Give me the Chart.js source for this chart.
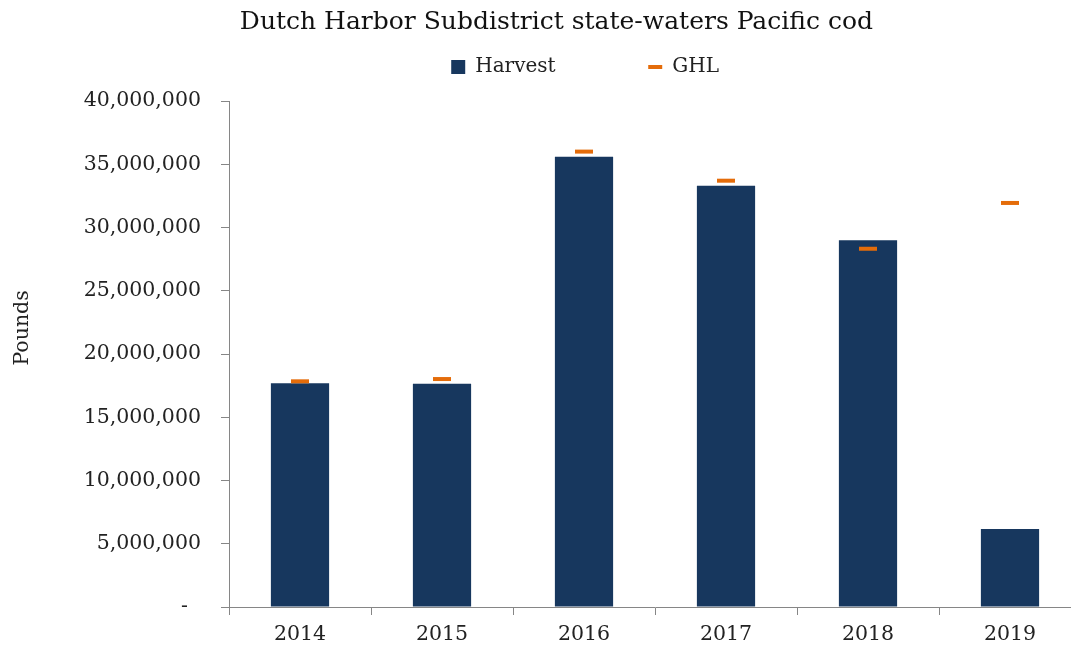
<!DOCTYPE html>
<html>
<head>
<meta charset="utf-8">
<script src="https://cdn.jsdelivr.net/npm/chart.js@4"></script>
<style>
  html, body { margin: 0; padding: 0; background: #ffffff; overflow: hidden; }
  /* the original crop cuts the plot a little before its right end */
  #wrap { width: 1081px; height: 652px; }
</style>
</head>
<body>
<div id="wrap"><canvas id="grafico_cod"></canvas></div>
<script>
const anos = ['2014', '2015', '2016', '2017', '2018', '2019'];
const harvest = [17680000, 17650000, 35600000, 33300000, 29000000, 6170000];
const ghl = [17840000, 18020000, 36000000, 33700000, 28320000, 31940000];
const yTicks = [0, 5000000, 10000000, 15000000, 20000000, 25000000, 30000000, 35000000, 40000000];

const azul = '#17375e';
const laranja = '#e46c0a';
const cinza = '#868686';
const fonte = 'DejaVu Serif';

// legend needs some room below its items before the plot starts
const folgaLegenda = {
  id: 'folgaLegenda',
  beforeLayout(chart) {
    const lg = chart.legend;
    if (lg && !lg._folga) {
      const fitOrig = lg.fit;
      lg.fit = function () {
        fitOrig.call(this);
        this.height += 14;
      };
      lg._folga = true;
    }
  }
};

function graficoCod() {
  const canvas = document.getElementById('grafico_cod');

  new Chart(canvas, {
    type: 'bar',
    data: {
      labels: anos,
      datasets: [{
        label: 'Harvest',
        data: harvest,
        backgroundColor: azul,
        borderWidth: 0,
        categoryPercentage: 1,
        barPercentage: 0.41,
        order: 2
      }, {
        type: 'line',
        label: 'GHL',
        data: ghl,
        showLine: false,
        pointStyle: 'line',
        pointRadius: 9,
        pointHoverRadius: 9,
        borderColor: laranja,
        backgroundColor: laranja,
        borderWidth: 4,
        pointBorderWidth: 4,
        order: 1
      }]
    },
    options: {
      responsive: true,
      maintainAspectRatio: false,
      animation: false,
      layout: { padding: 0, autoPadding: false },
      scales: {
        x: {
          grid: { drawOnChartArea: false, tickLength: 8, color: cinza, offset: true },
          border: { color: cinza, width: 1 },
          ticks: { color: '#222', padding: 7, font: { family: fonte, size: 20.5 } },
          afterFit(scale) {
            scale.height = 45;
            scale.paddingLeft = 0;
            scale.paddingRight = 0;
          }
        },
        y: {
          min: 0,
          max: 40000000,
          afterBuildTicks(scale) { scale.ticks = yTicks.map(v => ({ value: v })); },
          grid: { drawOnChartArea: false, tickLength: 8, color: cinza },
          border: { color: cinza, width: 1 },
          ticks: {
            color: '#222',
            padding: 20,
            font: { family: fonte, size: 20.5 },
            callback: v => v === 0 ? '-  ' : v.toLocaleString('en-US')
          },
          title: {
            display: true,
            text: '        Pounds',
            color: '#222',
            font: { family: fonte, size: 20.5 },
            padding: { top: 10, bottom: 0 }
          },
          afterFit(scale) { scale.width = 229; }
        }
      },
      plugins: {
        title: {
          display: true,
          text: '    ' + 'Dutch Harbor Subdistrict state-waters Pacific cod',
          color: '#111',
          font: { family: fonte, size: 25, weight: 'normal' },
          padding: { top: 7, bottom: 10 }
        },
        legend: {
          fullSize: false,
          labels: {
            usePointStyle: true,
            boxWidth: 14,
            boxHeight: 14,
            pointStyleWidth: 14,
            padding: 10,
            color: '#222',
            font: { family: fonte, size: 20 },
            generateLabels() {
              return [
                { text: 'Harvest' + '             ', fillStyle: azul, strokeStyle: azul, lineWidth: 0, pointStyle: 'rect', datasetIndex: 0, fontColor: '#222' },
                { text: 'GHL' + '                      ', fillStyle: laranja, strokeStyle: laranja, lineWidth: 4, pointStyle: 'line', datasetIndex: 1, fontColor: '#222' }
              ];
            }
          }
        },
        tooltip: { enabled: false }
      }
    },
    plugins: [folgaLegenda]
  });
}

graficoCod();
</script>
</body>
</html>
